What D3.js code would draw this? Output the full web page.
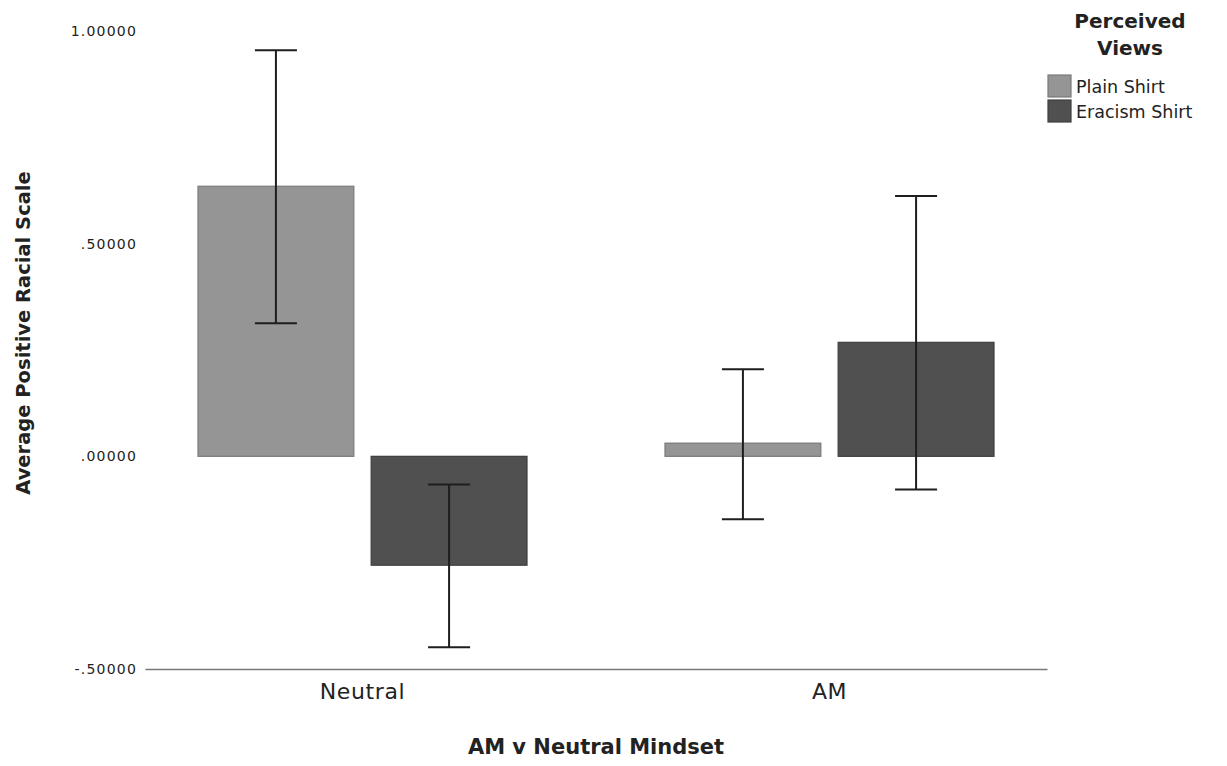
<!DOCTYPE html>
<html>
<head>
<meta charset="utf-8">
<script src="https://cdn.jsdelivr.net/npm/d3@7"></script>
<style>
  body { margin: 0; background: #fff; }
  text { font-family: "DejaVu Sans", sans-serif; fill: #222; }
</style>
</head>
<body>
<svg width="1227" height="766"></svg>
<script>
// chart data
var mindsets = ["Neutral", "AM"];
var views    = ["Plain Shirt", "Eracism Shirt"];
var means    = { "Neutral": [0.635, -0.256], "AM": [0.031, 0.268] };
var errLow   = { "Neutral": [0.313, -0.449], "AM": [-0.148, -0.078] };
var errHigh  = { "Neutral": [0.955, -0.066], "AM": [0.205, 0.612] };
var yTicks   = [-0.5, 0, 0.5, 1.0];
var colors   = ["#959595", "#505050"];

var rows = [];
mindsets.forEach( function( m ) {
    views.forEach( function( v, i ) {
        rows.push( { m: m, v: v, mean: means[m][i], lo: errLow[m][i], hi: errHigh[m][i] } );
    } );
} );

var svg = d3.select( "svg" );

var scX = d3.scaleBand().domain( mindsets ).range( [145, 1047] )
    .paddingInner( 0.2955 ).paddingOuter( 0.1135 );
var scSub = d3.scaleBand().domain( views ).range( [0, scX.bandwidth()] )
    .paddingInner( 0.1 );
var scY = d3.scaleLinear().domain( [-0.5, 1.0] ).range( [669, 31] );
var scC = d3.scaleOrdinal().domain( views ).range( colors );

// SPSS style labels: 1.00000, .50000, -.50000
var fmtTick = function( d ) {
    var s = Math.abs( d ).toFixed( 5 ).replace( /^0\./, "." );
    return ( d < 0 ? "-" : "" ) + s;
};

// y tick labels (no axis line)
var yAxis = d3.axisLeft( scY ).tickValues( yTicks ).tickSize( 0 ).tickPadding( 0 )
    .tickFormat( fmtTick );
var gy = svg.append( "g" ).attr( "transform", "translate(137,0)" ).call( yAxis );
gy.select( ".domain" ).remove();
gy.selectAll( "text" )
    .style( "font-family", "DejaVu Sans, sans-serif" )
    .style( "font-size", "14px" ).style( "letter-spacing", "1.2px" )
    .attr( "fill", "#333" );

// x axis
var xAxis = d3.axisBottom( scX ).tickSize( 0 ).tickPadding( 14 );
var gx = svg.append( "g" ).attr( "transform", "translate(0,669)" ).call( xAxis );
gx.select( ".domain" ).attr( "stroke", "#777" ).attr( "stroke-width", 1.5 );
gx.selectAll( "text" )
    .style( "font-family", "DejaVu Sans, sans-serif" )
    .style( "font-size", "22px" ).style( "letter-spacing", "0.6px" )
    .attr( "fill", "#222" );

// bars
svg.append( "g" ).attr( "id", "bars" )
    .selectAll( "rect" )
    .data( rows ).enter().append( "rect" )
    .attr( "x", d => scX( d.m ) + scSub( d.v ) )
    .attr( "width", scSub.bandwidth() )
    .attr( "y", d => scY( Math.max( 0, d.mean ) ) )
    .attr( "height", d => Math.abs( scY( d.mean ) - scY( 0 ) ) )
    .attr( "fill", d => scC( d.v ) )
    .attr( "stroke", d => d.v == views[0] ? "#7a7a7a" : "#3e3e3e" )
    .attr( "stroke-width", 1.2 );

// error bars
var cap = 21;
var eb = svg.append( "g" ).attr( "id", "errs" )
    .attr( "stroke", "#1e1e1e" ).attr( "stroke-width", 2 )
    .selectAll( "g" )
    .data( rows ).enter().append( "g" )
    .attr( "transform", d => "translate(" + ( scX( d.m ) + scSub( d.v ) + scSub.bandwidth() / 2 ) + ",0)" );
eb.append( "line" )
    .attr( "x1", 0 ).attr( "x2", 0 )
    .attr( "y1", d => scY( d.hi ) ).attr( "y2", d => scY( d.lo ) );
eb.append( "line" )
    .attr( "x1", -cap ).attr( "x2", cap )
    .attr( "y1", d => scY( d.hi ) ).attr( "y2", d => scY( d.hi ) );
eb.append( "line" )
    .attr( "x1", -cap ).attr( "x2", cap )
    .attr( "y1", d => scY( d.lo ) ).attr( "y2", d => scY( d.lo ) );

// axis titles
svg.append( "text" )
    .attr( "x", 596 ).attr( "y", 754 )
    .attr( "text-anchor", "middle" )
    .style( "font-size", "21px" ).style( "font-weight", "bold" )
    .text( "AM v Neutral Mindset" );

svg.append( "text" )
    .attr( "transform", "translate(30,333) rotate(-90)" )
    .attr( "text-anchor", "middle" )
    .style( "font-size", "19.5px" ).style( "font-weight", "bold" )
    .text( "Average Positive Racial Scale" );

// legend
var lg = svg.append( "g" ).attr( "id", "legend" );
lg.append( "text" )
    .attr( "x", 1130 ).attr( "y", 28 ).attr( "text-anchor", "middle" )
    .style( "font-size", "20px" ).style( "font-weight", "bold" )
    .text( "Perceived" );
lg.append( "text" )
    .attr( "x", 1130 ).attr( "y", 55 ).attr( "text-anchor", "middle" )
    .style( "font-size", "20px" ).style( "font-weight", "bold" )
    .text( "Views" );

var items = lg.selectAll( "g.item" )
    .data( views ).enter().append( "g" ).attr( "class", "item" )
    .attr( "transform", ( d, i ) => "translate(1048," + ( 75 + i * 25 ) + ")" );
items.append( "rect" )
    .attr( "width", 23 ).attr( "height", 22 )
    .attr( "fill", d => scC( d ) )
    .attr( "stroke", d => d == views[0] ? "#7a7a7a" : "#3e3e3e" )
    .attr( "stroke-width", 1.2 );
items.append( "text" )
    .attr( "x", 28 ).attr( "y", 18 )
    .style( "font-size", "17.5px" ).attr( "fill", "#333" )
    .text( d => d );
</script>
</body>
</html>
